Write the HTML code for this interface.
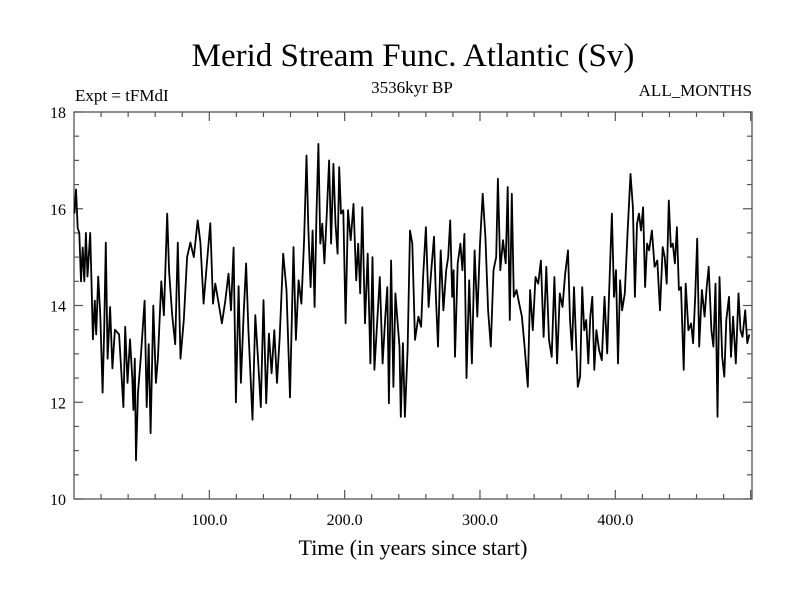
<!DOCTYPE html>
<html><head><meta charset="utf-8"><style>
body{margin:0;background:#fff}
svg text{font-family:"Liberation Serif",serif;fill:#000}
</style></head><body>
<svg id="chart" width="800" height="600" xmlns="http://www.w3.org/2000/svg">
<text x="413" y="66" font-size="33" text-anchor="middle">Merid Stream Func. Atlantic (Sv)</text>
<text x="75" y="101" font-size="17">Expt = tFMdI</text>
<text x="412" y="93" font-size="17" text-anchor="middle">3536kyr BP</text>
<text x="752" y="96" font-size="17" text-anchor="end">ALL_MONTHS</text>
<text x="413" y="555" font-size="22" text-anchor="middle">Time (in years since start)</text>
<g id="axes"></g>
<g id="plot"></g>
</svg>
<script>
const yTickValues=[10,12,14,16,18];
const xTickValues=[100,200,300,400];
const xTickLabels=["100.0","200.0","300.0","400.0"];
const years=[0.3,1.5,2.7,3.9,5.2,6.4,7.6,8.8,10,12,13,14,15.4,16.4,17.9,19.4,21.1,22.3,23.5,24.8,26.7,28.4,30.2,33.3,36.5,37.8,39.5,41.4,43.1,43.9,44.9,45.8,47.3,49.3,52.2,53.7,55.2,56.6,58.6,60.5,62,64.5,66.4,68.9,70.3,72.6,74.8,76.7,78.7,81.1,83.6,86,88.5,91.4,93.4,95.8,98.3,100.7,102.7,104.4,106.9,109.3,111.8,114.2,116,117.9,119.6,121.6,123.3,125.3,127.2,128.9,
131.9,134,136,138,140,142,144,146,148,150,152,154.6,157,159.6,162.2,164,166,168,170,171.8,173.2,174.8,176.3,177.8,179.2,180.6,182,183.5,185,186.8,188.5,190,191.7,193.2,194.8,196,197.3,199,200.7,202.5,204.5,206.5,208.5,210,211.5,213,215,217,219,220.6,222,224,226,228,230,231.5,232.7,234.3,236,237.5,239,240.5,241.5,243,244.5,246.5,248.3,250,252,254.5,
256.5,258,260,262,264,266,267.4,269,271,273,275,276.5,278,279.5,280.5,281.5,283.5,285.5,287,288.5,290,292,294,296,298,300,302,304,306,308,310,312,313.2,315,317,319,320.5,322,323.5,325,327,329,331,333,335.3,337,339,341,343,345,347,349,351,353,355,357,359,361,363,365,366.5,368,369.5,372.3,
374,375.5,377,378.5,380,381.5,383,384.5,386,388,390,392,394,395.5,397.5,399,400.5,402,403.5,405,407,409,411.2,413,414.5,416,417.5,419,420.5,422,423.5,425,427,429,431,433,435,436.5,438,439.5,441,442.5,444,445.5,447,448.5,450.5,452,454,456,457.5,459,460.5,462,464,466,467.5,469,471,472.5,474,475.5,477,479,480.5,482,484,485.5,487,489,491,492.5,494,496,497.5,499];
const values=[15.9,16.4,15.6,15.5,14.5,15.2,14.5,15.5,14.6,15.5,14.4,13.3,14.1,13.4,14.6,13.8,12.2,13.5,15.3,12.9,13.97,12.7,13.5,13.4,11.9,13.56,12.4,13.3,12.5,11.84,12.9,10.8,12.2,12.9,14.1,11.9,13.2,11.36,14.0,12.4,12.9,14.5,13.8,15.9,14.7,13.8,13.2,15.3,12.9,13.7,15,15.3,15.0,15.76,15.3,14.04,14.9,15.7,14.04,14.45,14.04,13.63,14.1,14.66,13.9,15.2,12.0,14.4,12.4,13.8,14.87,13.5,
11.64,13.8,12.9,11.9,14.11,11.98,13.42,12.6,13.49,12.4,13.35,15.07,14.32,12.1,15.21,13.29,14.52,14.04,15.35,17.1,15.55,14.38,15.55,13.97,15.9,17.34,15.28,15.69,14.87,15.9,17.0,15.28,16.93,15.69,15.07,16.86,15.9,15.97,13.63,15.97,15.35,16.1,14.52,15.28,14.25,16.03,13.63,15.07,12.8,15.0,12.67,13.63,14.59,12.8,13.77,14.38,11.98,14.93,12.32,14.25,13.7,13.15,11.7,13.22,11.7,13.08,15.55,15.28,13.29,13.77,
13.56,14.59,15.62,13.97,14.73,15.42,14.18,13.15,15.14,13.9,14.73,15.0,15.76,14.18,14.73,12.94,14.87,15.28,14.73,15.48,12.5,14.52,12.8,15.14,13.77,15.28,16.31,15.42,13.9,13.15,14.73,15.0,16.62,14.73,15.35,14.87,16.45,13.7,16.31,14.18,14.32,14.04,13.77,13.15,12.32,14.32,13.49,14.59,14.45,14.93,13.35,14.8,13.29,12.94,14.59,12.8,14.25,13.97,14.66,15.14,13.7,13.08,14.38,12.32,
12.53,14.38,13.49,13.7,12.8,13.77,14.18,12.67,13.49,13.08,12.87,14.18,13.01,14.32,15.9,14.18,14.73,12.8,14.52,13.9,14.25,15.48,16.72,16.03,14.18,15.69,15.9,15.55,16.03,14.38,15.28,15.14,15.55,14.8,14.93,13.9,15.21,15.0,14.45,16.17,15.21,15.28,14.87,15.62,14.32,14.38,12.67,14.45,13.49,13.63,13.22,14.18,15.38,13.15,14.32,13.77,14.38,14.8,13.49,13.15,14.45,11.7,14.59,12.94,12.53,13.7,14.18,12.94,13.77,12.8,14.25,13.49,13.35,13.9,13.22,13.4];

const L=74,R=752,T=112,B=499,X0=0,X1=501,Y0=10,Y1=18;
const xs=v=>L+(v-X0)/(X1-X0)*(R-L);
const ys=v=>B-(v-Y0)/(Y1-Y0)*(B-T);
const NS="http://www.w3.org/2000/svg";
const axes=document.getElementById('axes'),plot=document.getElementById('plot');
function mk(tag,attrs,parent){const e=document.createElementNS(NS,tag);for(const k in attrs)e.setAttribute(k,attrs[k]);parent.appendChild(e);return e;}
const frame=mk('rect',{x:L,y:T,width:R-L,height:B-T,fill:'none',stroke:'#555','stroke-width':1.3},axes);


for(let v=Y0;v<=Y1+1e-9;v+=0.5){
  const major=Math.abs(v-Math.round(v/2)*2)<1e-9;const len=major?9:5;const y=ys(v);
  const t1=mk('line',{x1:L,x2:L+len,y1:y,y2:y,stroke:'#555','stroke-width':1.2},axes);
  
  
  const t2=mk('line',{x1:R,x2:R-len,y1:y,y2:y,stroke:'#555','stroke-width':1.2},axes);
  
  
}
yTickValues.forEach(v=>{const t=mk('text',{x:L-8,y:ys(v)+6,'font-size':16,'text-anchor':'end'},axes);t.textContent=v;
  
  });
for(let v=20;v<X1;v+=20){
  const major=v%100===0;const len=major?9:5;const x=xs(v);
  const t1=mk('line',{x1:x,x2:x,y1:B,y2:B-len,stroke:'#555','stroke-width':1.2},axes);
  
  
  const t2=mk('line',{x1:x,x2:x,y1:T,y2:T+len,stroke:'#555','stroke-width':1.2},axes);
  
  
}
xTickValues.forEach((v,i)=>{const t=mk('text',{x:xs(v),y:B+26,'font-size':16,'text-anchor':'middle'},axes);t.textContent=xTickLabels[i];
  
  });
const d=years.map((yr,i)=>(i?'L':'M')+xs(yr).toFixed(1)+','+ys(values[i]).toFixed(1)).join('');
const line=mk('path',{d:d,fill:'none',stroke:'#000','stroke-width':1.8,'stroke-linejoin':'round'},plot);


</script>
</body></html>
